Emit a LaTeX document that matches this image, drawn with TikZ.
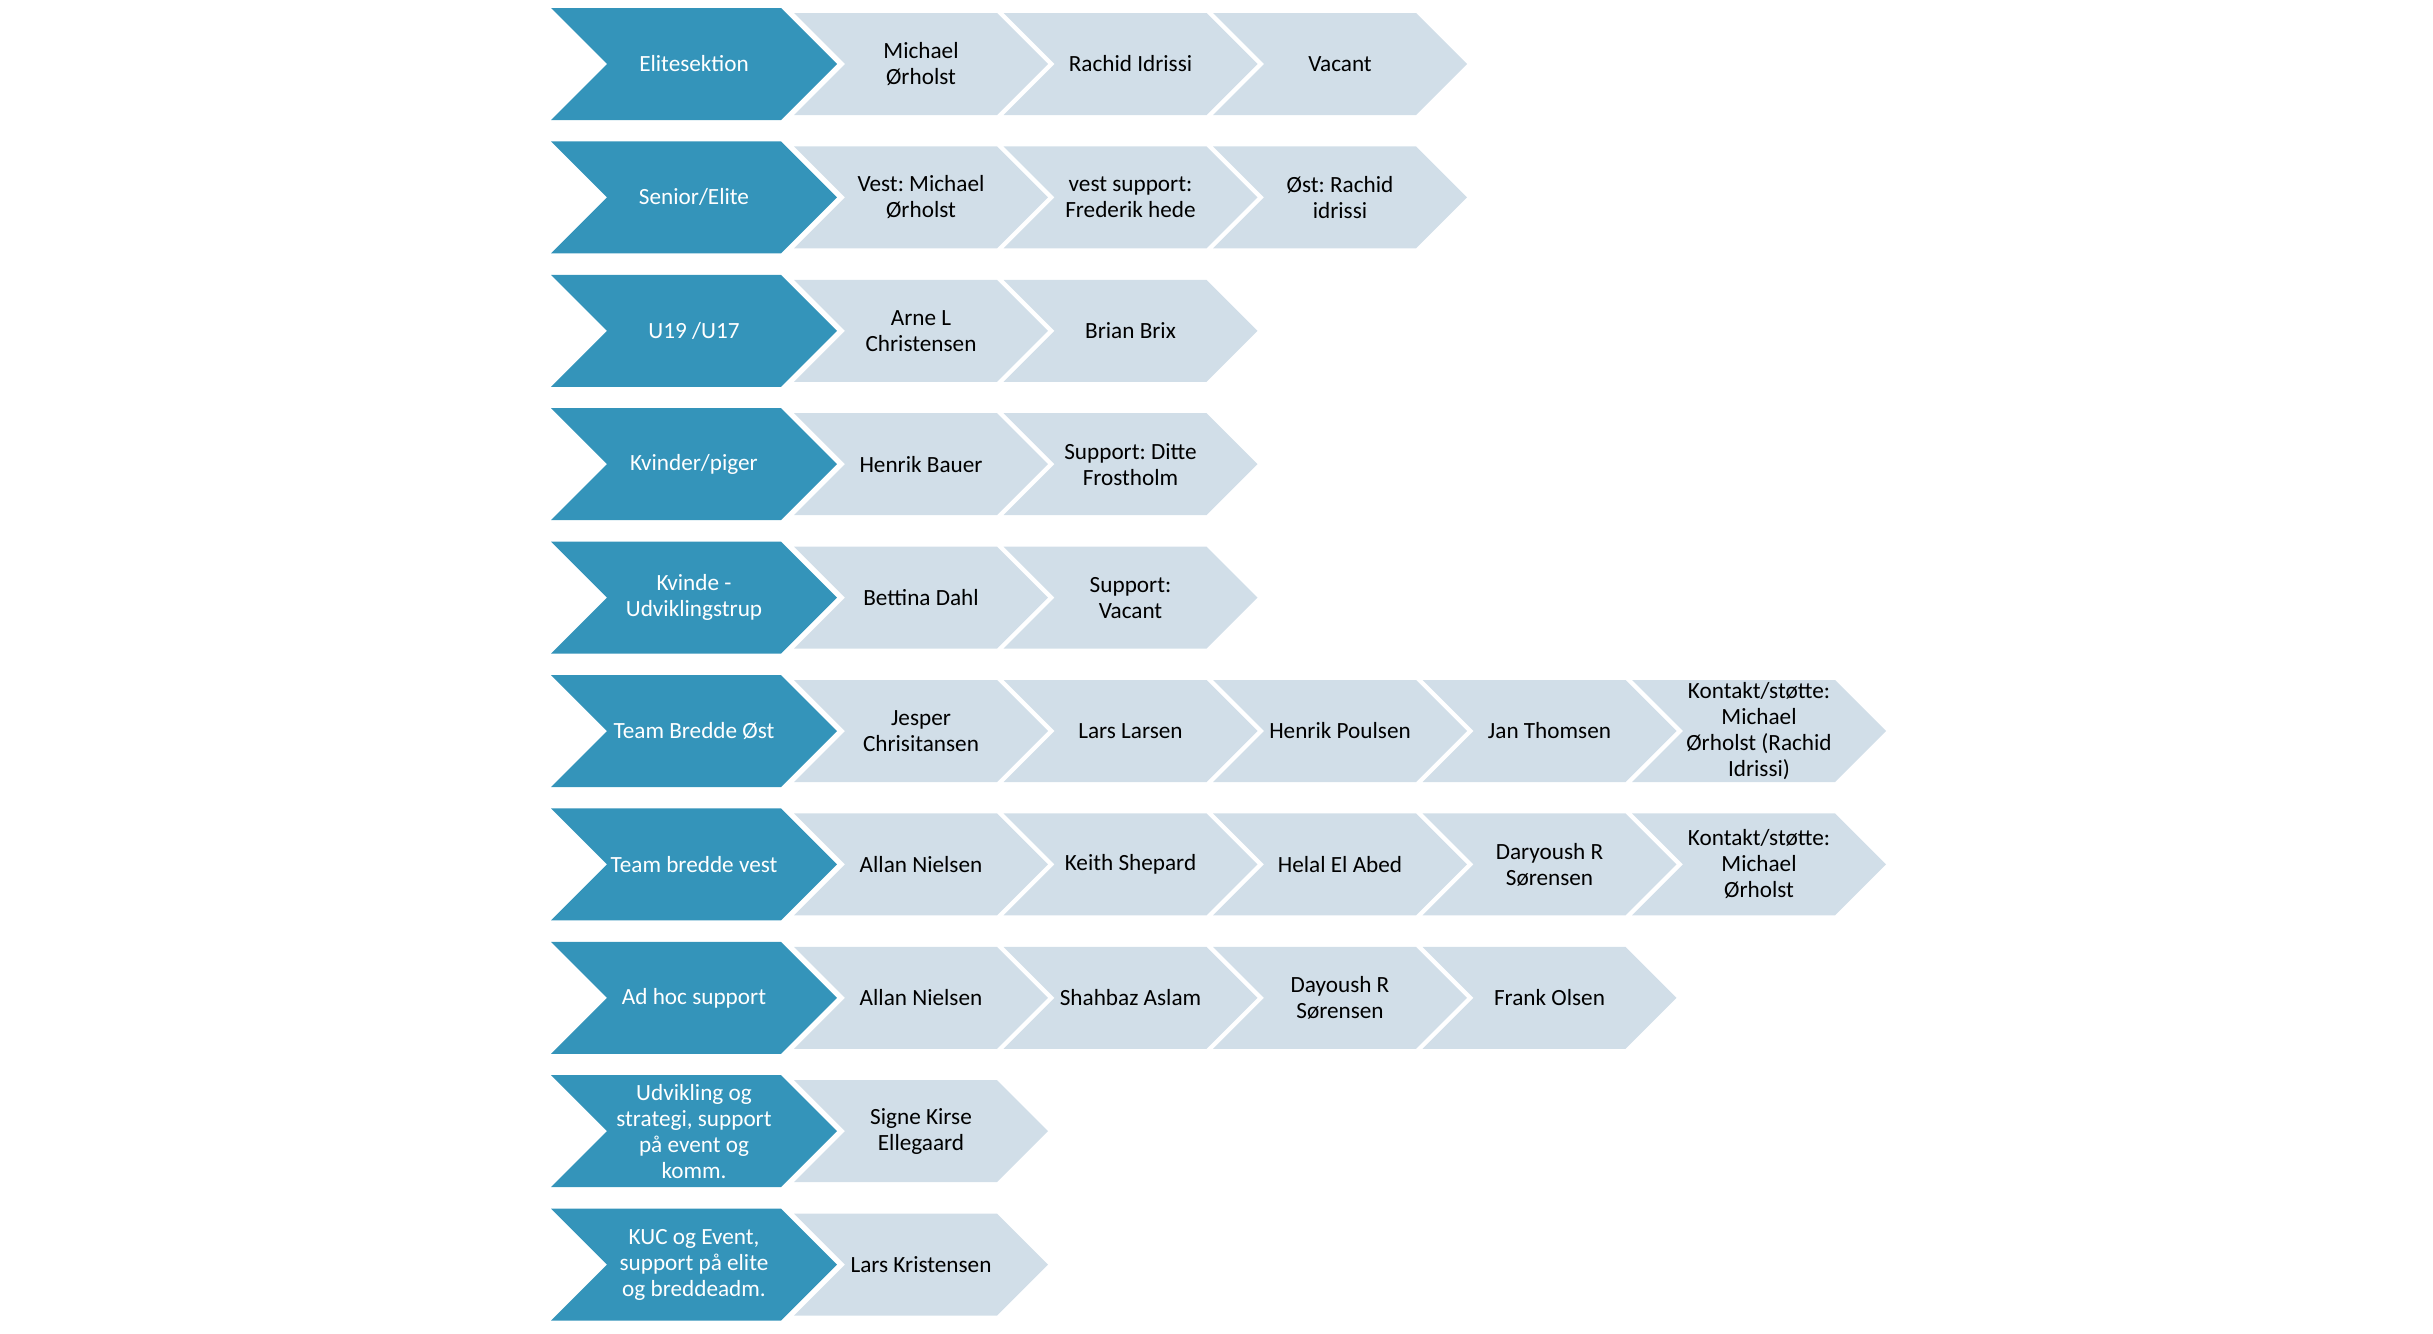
\documentclass[tikz,border=0pt]{standalone}
\usepackage{fontspec}
\setmainfont{Carlito}
\usepackage{xcolor}
\definecolor{HeadBlue}{HTML}{3494BA}
\definecolor{ItemGray}{HTML}{D1DEE8}
\usepackage{tikz}
\usetikzlibrary{positioning}
\frenchspacing

% chevron: style, left x, centre y, half height, width to tip
\newcommand{\chevron}[5]{%
  \path[#1] (#2,#3-#4) -- ++(#5-#4,0) -- ++(#4,#4) -- ++(-#4,#4)
    -- ++(-#5+#4,0) -- ++(#4,-#4) -- cycle;}

\begin{document}
\begin{tikzpicture}[
  x=0.01cm, y=-0.01cm,
  head/.style={fill=HeadBlue},
  item/.style={fill=ItemGray},
  headtxt/.style={font=\fontsize{6.6}{7.4}\selectfont, text=white, align=center},
  itemtxt/.style={font=\fontsize{6.6}{7.4}\selectfont, text=black, align=center},
]
\useasboundingbox (0,0) rectangle (2433,1333);

\foreach \head/\items [count=\row] in {
  {Elitesektion}/{{Michael\\Ørholst},{Rachid Idrissi},{Vacant}},
  {Senior/Elite}/{{Vest: Michael\\Ørholst},{vest support:\\Frederik hede},{Øst: Rachid\\idrissi}},
  {U19 /U17}/{{Arne L\\Christensen},{Brian Brix}},
  {Kvinder/piger}/{{Henrik Bauer},{Support: Ditte\\Frostholm}},
  {Kvinde -\\Udviklingstrup}/{{Bettina Dahl},{Support:\\Vacant}},
  {Team Bredde Øst}/{{Jesper\\Chrisitansen},{Lars Larsen},{Henrik Poulsen},{Jan Thomsen},{Kontakt/støtte:\\Michael\\Ørholst (Rachid\\Idrissi)}},
  {Team bredde vest}/{{Allan Nielsen},{Keith Shepard},{Helal El Abed},{Daryoush R\\Sørensen},{Kontakt/støtte:\\Michael\\Ørholst}},
  {Ad hoc support}/{{Allan Nielsen},{Shahbaz Aslam},{Dayoush R\\Sørensen},{Frank Olsen}},
  {Udvikling og\\strategi, support\\på event og\\komm.}/{{Signe Kirse\\Ellegaard}},
  {KUC og Event,\\support på elite\\og breddeadm.}/{{Lars Kristensen}}%
}{
  \pgfmathsetmacro\yc{64+133.4*(\row-1)}
  \chevron{head}{551}{\yc}{56}{286}
  \node[headtxt] (h\row) at (694,\yc) {\head};
  \foreach \who [count=\col] in \items {
    \pgfmathsetmacro\xl{794+209.5*(\col-1)}
    \chevron{item}{\xl}{\yc}{51}{254}
    \node[itemtxt] (r\row-\col) at (\xl+127,\yc) {\who};
  }
}
\end{tikzpicture}
\end{document}
